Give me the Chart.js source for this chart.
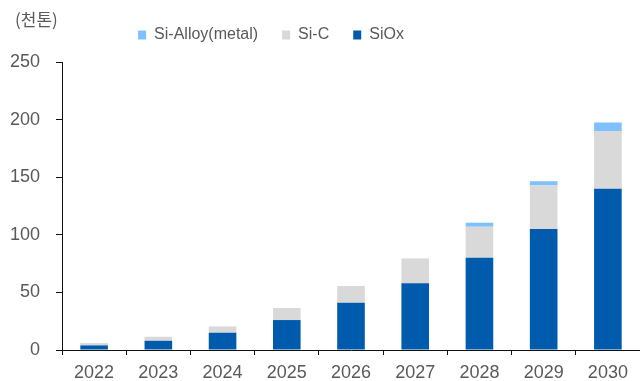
<!DOCTYPE html>
<html>
<head>
<meta charset="utf-8">
<script src="https://cdn.jsdelivr.net/npm/chart.js@4.4.1/dist/chart.umd.min.js"></script>
<style>
  html, body { margin: 0; padding: 0; background: #fff; }
  #wrap { position: relative; width: 640px; height: 381px; }
</style>
</head>
<body>
<div id="wrap"><canvas id="si-chart" width="640" height="381"></canvas></div>
<script>
const years = ['2022', '2023', '2024', '2025', '2026', '2027', '2028', '2029', '2030'];
const siox = [4, 8, 15, 26, 41, 58, 80, 105, 140];
const sic = [2, 3.5, 5.5, 10.5, 14.5, 21.5, 27, 38, 50];
const siAlloy = [0, 0, 0, 0, 0, 0, 3.5, 3.5, 7.5];
const unitLabel = '(천톤)';

document.addEventListener('DOMContentLoaded', function(){

    const FONT = "'Liberation Sans', Arial, 'Noto Sans CJK KR', sans-serif";
    const GRAY = '#595959';

    // unit text in the top-left corner; legend nudged left and up
    const extras = {
        id: 'extras',
        afterLayout(chart) {
            const lg = chart.legend;
            if (lg) {
                lg.left -= 54; lg.right -= 54;
                lg.top -= 9; lg.bottom -= 9;
            }
        },
        afterDraw(chart) {
            const c = chart.ctx;
            c.save();
            c.fillStyle = GRAY;
            c.font = "17px 'Noto Sans CJK KR', sans-serif";
            c.textBaseline = 'middle';
            c.fillText(unitLabel, 15, 20);
            c.restore();
        }
    };

    const ctx = document.getElementById('si-chart').getContext('2d');
    new Chart(ctx, {
        type: 'bar',
        data: {
            labels: years,
            datasets: [
                { label: 'SiOx', data: siox, backgroundColor: '#005bac' },
                { label: 'Si-C', data: sic, backgroundColor: '#d9d9d9' },
                { label: 'Si-Alloy(metal)', data: siAlloy, backgroundColor: '#7fc1ff' }
            ]
        },
        options: {
            responsive: false,
            animation: false,
            layout: { padding: { left: 10, right: 0, top: 12, bottom: 0 } },
            datasets: { bar: { barPercentage: 0.43, categoryPercentage: 1, borderWidth: 0 } },
            plugins: {
                legend: {
                    position: 'top',
                    reverse: true,
                    labels: {
                        boxWidth: 8,
                        boxHeight: 9,
                        padding: 24,
                        color: GRAY,
                        font: { family: FONT, size: 16 }
                    }
                },
                tooltip: { enabled: false }
            },
            scales: {
                x: {
                    stacked: true,
                    afterFit(scale) { scale.height = 31; },
                    border: { display: true, color: '#111', width: 1 },
                    grid: { drawOnChartArea: false, drawTicks: true, tickLength: 5, color: '#111' },
                    ticks: { color: GRAY, padding: 7, font: { family: FONT, size: 18 } }
                },
                y: {
                    stacked: true,
                    min: 0,
                    max: 250,
                    afterFit(scale) { scale.width = 52; },
                    border: { display: true, color: '#111', width: 1 },
                    grid: { drawOnChartArea: false, drawTicks: true, tickLength: 6, color: '#111' },
                    ticks: { stepSize: 50, color: GRAY, padding: 16, font: { family: FONT, size: 18 } }
                }
            }
        },
        plugins: [extras]
    });

});
</script>
</body>
</html>
